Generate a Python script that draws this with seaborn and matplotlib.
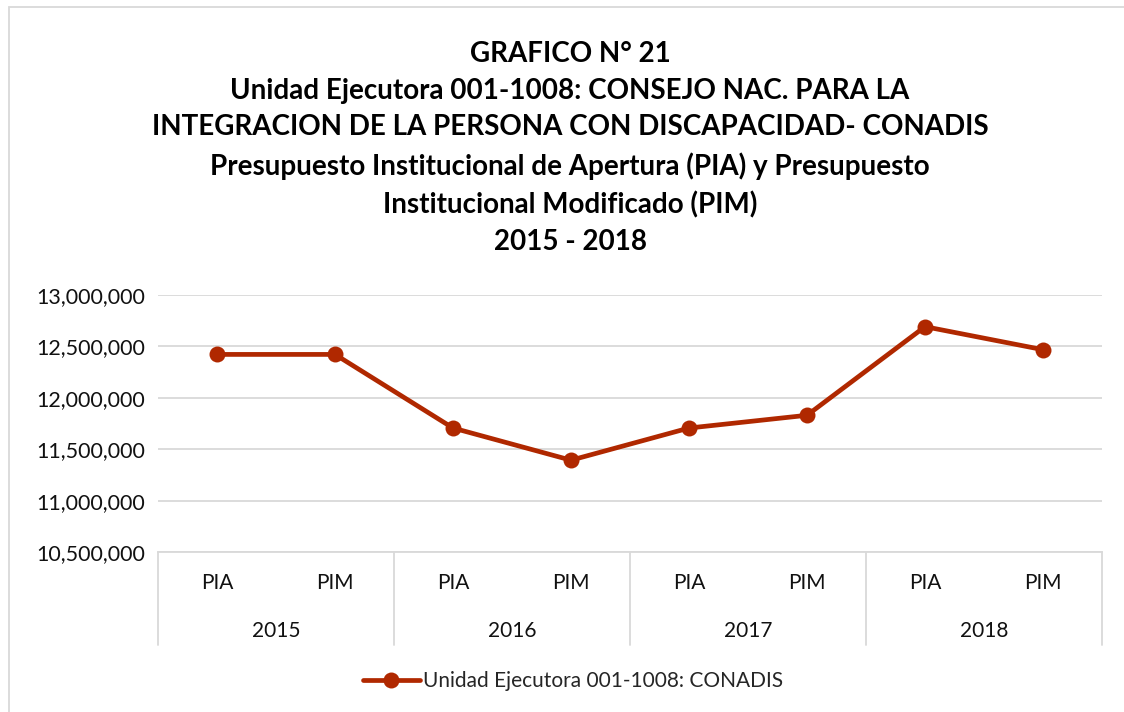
import matplotlib
matplotlib.use("Agg")
import matplotlib.pyplot as plt
import matplotlib.ticker as mticker
from matplotlib.patches import Rectangle
from matplotlib.lines import Line2D
import seaborn as sns
import pandas as pd

years = ["2015", "2016", "2017", "2018"]
kinds = ["PIA", "PIM"]
values = [12422000, 12422000, 11706000, 11393000, 11706000, 11830000, 12692000, 12468000]
series_name = "Unidad Ejecutora 001-1008: CONADIS"
title = ("GRAFICO N° 21\nUnidad Ejecutora 001-1008: CONSEJO NAC. PARA LA\n"
         "INTEGRACION DE LA PERSONA CON DISCAPACIDAD- CONADIS\n"
         "Presupuesto Institucional de Apertura (PIA) y Presupuesto\n"
         "Institucional Modificado (PIM)\n2015 - 2018")

cats = [f"{y} {k}" for y in years for k in kinds]
df = pd.DataFrame({"cat": cats, "value": values, "serie": series_name})

sns.set_theme(style="white")
plt.rcParams["font.family"] = ["Lato", "DejaVu Sans"]

W, H = 1124, 712
fig = plt.figure(figsize=(W / 100, H / 100), dpi=100)
ax = fig.add_axes([158 / W, 1 - 552 / H, (1102 - 158) / W, (552 - 295) / H])

color = "#B02800"
lw = 3.4
ms = 11.5
sns.lineplot(data=df, x="cat", y="value", hue="serie", palette=[color], ax=ax,
             marker="o", markersize=ms, linewidth=lw, markeredgewidth=0, sort=False)

fs = 15
ax.set_ylim(10500000, 13000000)
ax.set_xlim(-0.5, len(cats) - 0.5)
ax.yaxis.set_major_locator(mticker.MultipleLocator(500000))
ax.yaxis.set_major_formatter(mticker.FuncFormatter(lambda v, p: f"{int(v):,}"))
ax.grid(axis="y", color="#D9D9D9", linewidth=1.3)
ax.set_axisbelow(True)
for s in ["top", "right", "left"]:
    ax.spines[s].set_visible(False)
ax.spines["bottom"].set_color("#D9D9D9")
ax.spines["bottom"].set_linewidth(1.3)
ax.tick_params(axis="y", labelsize=15.5, pad=9, length=0, labelcolor="#111111")
ax.set_xticks(range(len(cats)))
ax.set_xticklabels([k for y in years for k in kinds])
ax.tick_params(axis="x", labelsize=fs, pad=15, length=0, labelcolor="#111111")
ax.set_xlabel("")
ax.set_ylabel("")

# group separators and year labels
trans = ax.get_xaxis_transform()
span = 552 - 295
for i in range(len(years) + 1):
    xpos = i * 2 - 0.5
    ax.plot([xpos, xpos], [0, -(645 - 552) / span], transform=trans, color="#D9D9D9",
            linewidth=1.3, clip_on=False)
for i, y in enumerate(years):
    ax.text(i * 2 + 0.5, -(631 - 552) / span, y, transform=trans,
            ha="center", va="center", fontsize=fs, color="#111111")

# legend
ax.get_legend().remove()
h = Line2D([], [], color=color, marker="o", markersize=ms, linewidth=lw, markeredgewidth=0)
fig.legend([h], [series_name], loc="center", bbox_to_anchor=(573 / W, 1 - 681 / H),
           frameon=False, fontsize=fs, handlelength=2.7, handletextpad=0.15)

fig.text(570 / W, 1 - 148 / H, title, ha="center", va="center", fontsize=20,
         fontweight="bold", linespacing=1.52, color="black")

fig.patches.append(Rectangle((9 / W, -0.01), 1.2, 1 - 7 / H + 0.01, transform=fig.transFigure,
                             fill=False, edgecolor="#D9D9D9", linewidth=1.3))

fig.savefig("out.png", dpi=100)
